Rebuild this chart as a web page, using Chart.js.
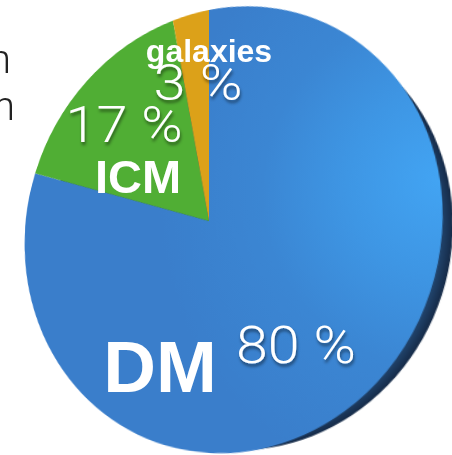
<!DOCTYPE html>
<html>
<head>
<meta charset="utf-8">
<script src="https://cdn.jsdelivr.net/npm/chart.js@4.4.0/dist/chart.umd.min.js"></script>
<style>
  html, body { margin: 0; padding: 0; background: #fff; }
  body { width: 452px; height: 455px; overflow: hidden; position: relative; }
  #pie { position: absolute; left: -21px; top: -9px; transform-origin: 230px 230px; }
  #labels { position: absolute; left: 0; top: 0; }
  .name { font-family: "Liberation Sans", Arial, sans-serif; font-weight: bold; fill: #fff; }
  .share { font-family: Roboto, "Open Sans", sans-serif; font-weight: 300; fill: #fff; }
  .side { font-family: Roboto, "Open Sans", sans-serif; font-weight: 300; fill: #222; }
</style>
</head>
<body>
<canvas id="pie" width="460" height="460"></canvas>
<svg id="labels" width="452" height="455">
  <defs>
    <filter id="drop" x="-20%" y="-20%" width="140%" height="160%">
      <feDropShadow dx="1" dy="3" stdDeviation="1.6" flood-color="#000" flood-opacity="0.45"/>
    </filter>
  </defs>
</svg>
<script>
// mass budget of a galaxy cluster
const components = ['DM', 'ICM', 'galaxies'];
const shares = [80, 17, 3];
const sliceColors = ['#3b80cc', '#50ae34', '#dca119'];

// where the names and percentages sit on the page (baseline, centred)
const nameLayout = [
  { x: 160, y: 392, size: 73 },
  { x: 138, y: 193, size: 47 },
  { x: 209, y: 62, size: 32 }
];
const shareLayout = [
  { x: 296, y: 363, size: 52, width: 120 },
  { x: 124, y: 142, size: 50, width: 117 },
  { x: 198, y: 100, size: 50, width: 89 }
];

// tilt of the disc: x' = sx*X / w, y' = (sy*Y + k*X) / w, w = 1 - u*X - v*Y
const tilt = { sx: 0.936, sy: 1.0045, k: -0.07, u: 0.000535, v: 0.000215 };
document.getElementById('pie').style.transform =
  `matrix3d(${tilt.sx},${tilt.k},0,${-tilt.u}, 0,${tilt.sy},0,${-tilt.v}, 0,0,1,0, 0,0,0,1)`;

// lighter glare along the right of the big slice
function dmFill(context) {
  const area = context.chart.chartArea;
  if (!area) return sliceColors[0];
  const cx = (area.left + area.right) / 2;
  const cy = (area.top + area.bottom) / 2;
  const r = Math.min(area.right - area.left, area.bottom - area.top) / 2;
  const gx = cx + 1.0 * r, gy = cy - 0.1 * r;
  const g = context.chart.ctx.createRadialGradient(gx, gy, 0, gx, gy, 1.25 * r);
  g.addColorStop(0, '#42a4f3');
  g.addColorStop(0.3, '#3e96e4');
  g.addColorStop(0.6, '#3b86d3');
  g.addColorStop(1, '#3a7ecb');
  return g;
}

// dark side of the disc showing on the lower right
const rimPlugin = {
  id: 'rim',
  beforeDatasetsDraw(chart) {
    const arc = chart.getDatasetMeta(0).data[0];
    const ctx = chart.ctx;
    const ox = arc.x + 21, oy = arc.y + 9, r = arc.outerRadius - 13;
    const g = ctx.createRadialGradient(ox, oy, r - 12, ox, oy, r);
    g.addColorStop(0, '#244a75');
    g.addColorStop(1, '#152a47');
    ctx.save();
    ctx.beginPath();
    ctx.arc(ox, oy, r, 0, Math.PI * 2);
    ctx.fillStyle = g;
    ctx.fill();
    ctx.restore();
  }
};

new Chart(document.getElementById('pie'), {
  type: 'pie',
  data: {
    labels: components,
    datasets: [{
      data: shares,
      backgroundColor: (c) => c.dataIndex === 0 ? dmFill(c) : sliceColors[c.dataIndex],
      borderWidth: 0
    }]
  },
  options: {
    responsive: false,
    devicePixelRatio: 1,
    animation: false,
    rotation: 0,
    layout: { padding: 10 },
    plugins: { legend: { display: false }, tooltip: { enabled: false } }
  },
  plugins: [rimPlugin]
});

// text on top of the slices
const svg = document.getElementById('labels');
const NS = 'http://www.w3.org/2000/svg';
function addText(str, x, y, size, cls, anchor, shadow, width) {
  const t = document.createElementNS(NS, 'text');
  t.setAttribute('x', x);
  t.setAttribute('y', y);
  t.setAttribute('font-size', size);
  t.setAttribute('text-anchor', anchor);
  t.setAttribute('class', cls);
  if (width) {
    t.setAttribute('textLength', width);
    t.setAttribute('lengthAdjust', 'spacingAndGlyphs');
  }
  if (shadow) t.setAttribute('filter', 'url(#drop)');
  t.textContent = str;
  svg.appendChild(t);
}
components.forEach((name, i) => {
  const n = nameLayout[i], s = shareLayout[i];
  addText(name, n.x, n.y, n.size, 'name', 'middle', false);
  addText(shares[i] + ' %', s.x, s.y, s.size, 'share', 'middle', true, s.width);
});

// tail ends of the text running in from the left
addText('n', 11, 73, 40, 'side', 'end', false);
addText('h', 15, 120, 40, 'side', 'end', false);
</script>
</body>
</html>
